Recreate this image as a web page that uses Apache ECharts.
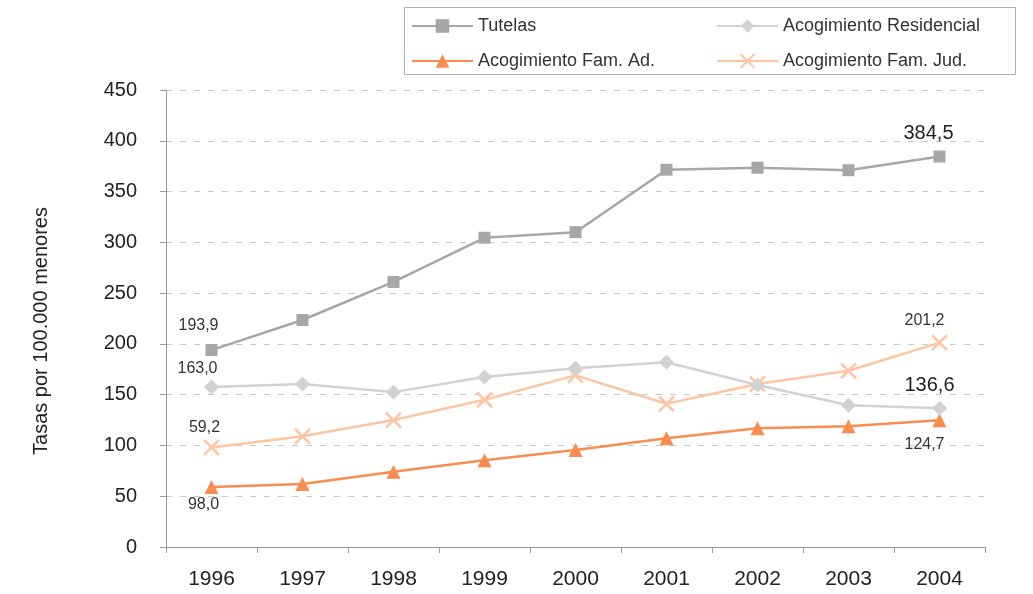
<!DOCTYPE html>
<html>
<head>
<meta charset="utf-8">
<script src="https://cdn.jsdelivr.net/npm/echarts@6/dist/echarts.min.js"></script>
<style>
  html, body { margin: 0; padding: 0; background: #fff; }
  #chart { width: 1033px; height: 594px; }
</style>
</head>
<body>
<div id="chart"></div>
<script>
  // datos (tasas por 100.000 menores)
  var years = ["1996", "1997", "1998", "1999", "2000", "2001", "2002", "2003", "2004"];
  var tutelas = [193.9, 223.5, 261, 304.5, 310, 371.5, 373.5, 371, 384.5];
  var residencial = [157.5, 160.5, 152.5, 167.5, 176, 182, 159.5, 139.5, 136.6];
  var famAd = [59.2, 62, 74, 85.5, 95.5, 107, 117, 119, 124.7];
  var famJud = [98, 109, 125, 145, 169, 141, 160.5, 173.5, 201.2];

  // etiquetas tal como aparecen en el gráfico (primer y último año)
  var tutelasLabels = ["193,9", "", "", "", "", "", "", "", "384,5"];
  var residencialLabels = ["163,0", "", "", "", "", "", "", "", "136,6"];
  var famAdLabels = ["98,0", "", "", "", "", "", "", "", "124,7"];
  var famJudLabels = ["59,2", "", "", "", "", "", "", "", "201,2"];

  var FONT = "'Liberation Sans', Arial, sans-serif";

  function withLabels(values, labels, first, last) {
    return values.map(function (v, i) {
      var item = { value: v };
      if (labels[i]) {
        var cfg = i === 0 ? first : last;
        item.label = Object.assign({
          show: true,
          formatter: labels[i],
          position: "inside",
          color: "#333",
          fontSize: 16,
          fontFamily: FONT
        }, cfg);
      }
      return item;
    });
  }

  var xPath = "path://M0,0 L10,10 M10,0 L0,10";

  var legendText = { fontSize: 18, color: "#333", fontFamily: FONT };

  var chart = echarts.init(document.getElementById("chart"));
  chart.setOption({
    animation: false,
    grid: { left: 166, right: 48, top: 90, bottom: 47, containLabel: false },
    graphic: [{
      type: "rect",
      shape: { x: 404.5, y: 7.5, width: 611, height: 67 },
      style: { fill: "none", stroke: "#b0b0b0", lineWidth: 1 }
    }],
    legend: [{
      data: ["Tutelas", "Acogimiento Fam. Ad."],
      orient: "vertical",
      left: 411,
      top: 17,
      padding: 0,
      itemWidth: 61,
      itemHeight: 17,
      itemGap: 17,
      textStyle: legendText
    }, {
      data: ["Acogimiento Residencial", "Acogimiento Fam. Jud."],
      orient: "vertical",
      left: 716,
      top: 17,
      padding: 0,
      itemWidth: 61,
      itemHeight: 17,
      itemGap: 17,
      textStyle: legendText
    }],
    xAxis: {
      type: "category",
      data: years,
      boundaryGap: true,
      axisLine: { lineStyle: { color: "#999", width: 1 } },
      axisTick: { show: true, length: 6, lineStyle: { color: "#999" } },
      axisLabel: { fontSize: 21, color: "#222", fontFamily: FONT, margin: 22 }
    },
    yAxis: {
      type: "value",
      min: 0,
      max: 450,
      interval: 50,
      name: "Tasas por 100.000 menores",
      nameLocation: "middle",
      nameGap: 115,
      nameTextStyle: { fontSize: 20, color: "#222", fontFamily: FONT, padding: [0, 25, 0, 0] },
      axisLine: { show: true, lineStyle: { color: "#999", width: 1 } },
      axisTick: { show: true, length: 6, lineStyle: { color: "#999" } },
      axisLabel: { fontSize: 20, color: "#222", fontFamily: FONT, margin: 29 },
      splitLine: { show: true, lineStyle: { color: "#c8c8c8", type: [6, 8], width: 1 } }
    },
    series: [{
      name: "Tutelas",
      type: "line",
      data: withLabels(tutelas, tutelasLabels, { offset: [-13, -24] }, { offset: [-11, -23], fontSize: 20, color: "#222" }),
      symbol: "rect",
      symbolSize: 12,
      lineStyle: { color: "#a7a7aa", width: 2.5 },
      itemStyle: { color: "#a7a7aa" },
      z: 4
    }, {
      name: "Acogimiento Residencial",
      type: "line",
      data: withLabels(residencial, residencialLabels, { offset: [-14, -18] }, { offset: [-10, -23], fontSize: 20, color: "#222" }),
      symbol: "diamond",
      symbolSize: 15,
      lineStyle: { color: "#d2d2d3", width: 2.5 },
      itemStyle: { color: "#d2d2d3" },
      z: 3
    }, {
      name: "Acogimiento Fam. Ad.",
      type: "line",
      data: withLabels(famAd, famAdLabels, { offset: [-8, 18] }, { offset: [-15, 24] }),
      symbol: "triangle",
      symbolSize: 14,
      lineStyle: { color: "#f98c4f", width: 2.5 },
      itemStyle: { color: "#f98c4f" },
      z: 2
    }, {
      name: "Acogimiento Fam. Jud.",
      type: "line",
      data: withLabels(famJud, famJudLabels, { offset: [-7, -20] }, { offset: [-15, -22] }),
      symbol: xPath,
      symbolSize: 15,
      lineStyle: { color: "#fdc5a3", width: 2.5 },
      itemStyle: { color: "#fdc5a3", borderColor: "#fdc5a3", borderWidth: 2.5 },
      z: 1
    }]
  });
</script>
</body>
</html>
